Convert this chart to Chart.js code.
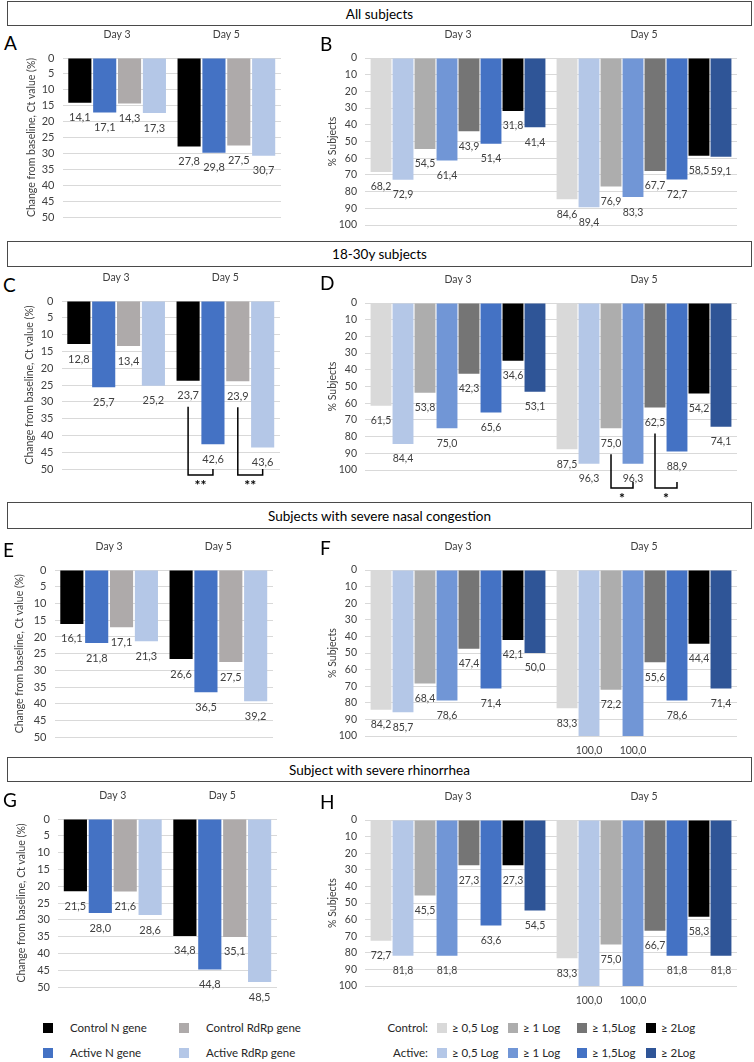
<!DOCTYPE html>
<html>
<head>
<meta charset="utf-8">
<script src="https://cdn.jsdelivr.net/npm/chart.js@4.4.1/dist/chart.umd.min.js"></script>
<style>
  body { margin: 0; background: #fff; }
  #page { position: relative; width: 754px; height: 1062px; overflow: hidden; font-family: Lato, 'Open Sans', sans-serif; color: #000; }
  .section { position: absolute; left: 7px; width: 745px; border: 1.5px solid #4a4a4a; box-sizing: border-box;
             display: flex; align-items: center; justify-content: center; font-size: 13.5px; }
  .letter { position: absolute; font-size: 19px; line-height: 22px; }
  canvas { position: absolute; }
  .swatch { position: absolute; width: 10px; height: 10px; }
  .legtext { position: absolute; font-size: 11.5px; line-height: 14px; color: #262626; white-space: nowrap; }
</style>
</head>
<body>
<div id="page"></div>
<script>
const FONT = "Lato, 'Open Sans', sans-serif";

const days = ['Day 3', 'Day 5'];
const sectionTitles = ['All subjects', '18-30y subjects', 'Subjects with severe nasal congestion', 'Subject with severe rhinorrhea'];

// left panels (Ct value change)
const ctSeries = ['Control N gene', 'Active N gene', 'Control RdRp gene', 'Active RdRp gene'];
const ctColors = ['#000000', '#4472C4', '#AEAAAA', '#B4C7E7'];

// right panels (% subjects by log reduction)
const logGroups = ['Control:', 'Active:'];
const logThresholds = ['≥ 0,5 Log', '≥ 1 Log', '≥ 1,5Log', '≥ 2Log'];
const controlColors = ['#D9D9D9', '#ADADAD', '#757575', '#000000'];
const activeColors = ['#B4C7E7', '#7196D6', '#4472C4', '#2F5597'];

// one row per ctSeries entry: [day 3, day 5]
const ctAll = [[14.1, 27.8], [17.1, 29.8], [14.3, 27.5], [17.3, 30.7]];
const ct18to30 = [[12.8, 23.7], [25.7, 42.6], [13.4, 23.9], [25.2, 43.6]];
const ctNasal = [[16.1, 26.6], [21.8, 36.5], [17.1, 27.5], [21.3, 39.2]];
const ctRhino = [[21.5, 34.8], [28.0, 44.8], [21.6, 35.1], [28.6, 48.5]];

// one row per bar: control / active alternating for each threshold: [day 3, day 5]
const logAll = [[68.2, 84.6], [72.9, 89.4], [54.5, 76.9], [61.4, 83.3], [43.9, 67.7], [51.4, 72.7], [31.8, 58.5], [41.4, 59.1]];
const log18to30 = [[61.5, 87.5], [84.4, 96.3], [53.8, 75.0], [75.0, 96.3], [42.3, 62.5], [65.6, 88.9], [34.6, 54.2], [53.1, 74.1]];
const logNasal = [[84.2, 83.3], [85.7, 100.0], [68.4, 72.2], [78.6, 100.0], [47.4, 55.6], [71.4, 78.6], [42.1, 44.4], [50.0, 71.4]];
const logRhino = [[72.7, 83.3], [81.8, 100.0], [45.5, 75.0], [81.8, 100.0], [27.3, 66.7], [63.6, 81.8], [27.3, 58.3], [54.5, 81.8]];

const logSeries = [];
const logColors = [];
logThresholds.forEach((t, i) => {
    logSeries.push('Control ' + t, 'Active ' + t);
    logColors.push(controlColors[i], activeColors[i]);
});

const page = document.getElementById('page');

function fmt(v) {
    return v.toFixed(1).replace('.', ',');
}

// value under the end of each bar
const barLabelPlugin = {
    id: 'bar_labels',
    afterDatasetsDraw(chart) {
        const ctx = chart.ctx;
        const size = chart.options.plugins.bar_labels.size;
        ctx.save();
        ctx.fillStyle = '#404040';
        ctx.font = `${size}px ${FONT}`;
        ctx.textAlign = 'center';
        ctx.textBaseline = 'middle';
        chart.data.datasets.forEach((ds, i) => {
            chart.getDatasetMeta(i).data.forEach((bar, j) => {
                ctx.fillText(fmt(ds.data[j]), bar.x, bar.y + 15);
            });
        });
        ctx.restore();
    }
};

// significance brackets joining two bars of the same day
function bracketPlugin(brackets) {
    return {
        id: 'brackets',
        afterDatasetsDraw(chart) {
            const ctx = chart.ctx;
            ctx.save();
            ctx.strokeStyle = '#000';
            ctx.lineWidth = 1.5;
            ctx.fillStyle = '#000';
            ctx.font = `bold 14px ${FONT}`;
            ctx.textAlign = 'center';
            ctx.textBaseline = 'middle';
            brackets.forEach(b => {
                const a = chart.getDatasetMeta(b.from).data[b.cat];
                const c = chart.getDatasetMeta(b.to).data[b.cat];
                const low = chart.chartArea.bottom + b.drop;
                ctx.beginPath();
                ctx.moveTo(a.x, a.y + 26);
                ctx.lineTo(a.x, low);
                ctx.lineTo(c.x, low);
                ctx.lineTo(c.x, low - 6);
                ctx.stroke();
                ctx.fillText(b.text, (a.x + c.x) / 2, low + 10);
            });
            ctx.restore();
        }
    };
}

function makePanel(p) {
    const [cl, ct, cr, cb] = p.canvas;
    const [al, at, ar, ab] = p.area;
    const canvas = document.createElement('canvas');
    canvas.width = cr - cl;
    canvas.height = cb - ct;
    canvas.style.left = cl + 'px';
    canvas.style.top = ct + 'px';
    page.appendChild(canvas);

    const letter = document.createElement('div');
    letter.className = 'letter';
    letter.textContent = p.letter;
    letter.style.left = p.letterPos[0] + 'px';
    letter.style.top = p.letterPos[1] + 'px';
    page.appendChild(letter);

    const datasets = p.rows.map((row, i) => ({
        label: p.names[i],
        data: row,
        backgroundColor: p.colors[i],
        borderWidth: 0,
        barPercentage: p.barPct,
        categoryPercentage: p.catPct
    }));

    return new Chart(canvas, {
        type: 'bar',
        data: { labels: days, datasets: datasets },
        options: {
            responsive: false,
            animation: false,
            events: [],
            layout: { padding: { left: 0, top: 0, right: cr - ar, bottom: cb - ab } },
            plugins: {
                legend: { display: false },
                tooltip: { enabled: false },
                bar_labels: { size: p.labelSize }
            },
            scales: {
                x: {
                    position: 'top',
                    grid: { display: false },
                    border: { display: false },
                    ticks: { color: '#404040', font: { family: FONT, size: 10.5 }, padding: 9 },
                    afterFit: (s) => { s.height = at - ct; }
                },
                y: {
                    reverse: true,
                    min: 0,
                    max: p.max,
                    border: { display: false },
                    grid: { color: '#D9D9D9', drawTicks: false },
                    ticks: { stepSize: p.step, autoSkip: false, color: '#404040', font: { family: FONT, size: p.tickSize }, padding: 8 },
                    title: { display: true, text: p.title, color: '#404040', font: { family: FONT, size: 10.5 }, padding: { top: 4, bottom: 0 } },
                    afterFit: (s) => { s.width = al - cl; }
                }
            }
        },
        plugins: [barLabelPlugin, bracketPlugin(p.brackets || [])]
    });
}

// section header boxes
const sectionBoxes = [[1, 25], [241, 26], [502, 27], [757, 25]];
sectionTitles.forEach((t, i) => {
    const d = document.createElement('div');
    d.className = 'section';
    d.style.top = sectionBoxes[i][0] + 'px';
    d.style.height = sectionBoxes[i][1] + 'px';
    d.textContent = t;
    page.appendChild(d);
});

const ctTitle = 'Change from baseline, Ct value (%)';
const logTitle = '% Subjects';
const leftOpts = { names: ctSeries, colors: ctColors, max: 50, step: 5, title: ctTitle, barPct: 0.93, catPct: 0.91, tickSize: 11, labelSize: 11 };
const rightOpts = { names: logSeries, colors: logColors, max: 100, step: 10, title: logTitle, barPct: 0.95, catPct: 0.946, tickSize: 10.5, labelSize: 10.5 };

makePanel({ ...leftOpts, letter: 'A', letterPos: [4, 32], rows: ctAll, canvas: [21, 30, 292, 240], area: [62.5, 58, 281, 217] });
makePanel({ ...rightOpts, letter: 'B', letterPos: [320, 33], rows: logAll, canvas: [322, 30, 752, 245], area: [365, 58, 737, 225] });

makePanel({ ...leftOpts, letter: 'C', letterPos: [3, 274], rows: ct18to30, canvas: [19, 272, 292, 497], area: [61.5, 301, 280, 469],
    brackets: [{ cat: 1, from: 0, to: 1, drop: 6, text: '**' }, { cat: 1, from: 2, to: 3, drop: 6, text: '**' }] });
makePanel({ ...rightOpts, letter: 'D', letterPos: [320, 272], rows: log18to30, canvas: [322, 272, 752, 501], area: [365, 303, 737, 470],
    brackets: [{ cat: 1, from: 2, to: 3, drop: 18, text: '*' }, { cat: 1, from: 4, to: 5, drop: 18, text: '*' }] });

makePanel({ ...leftOpts, letter: 'E', letterPos: [3, 539], rows: ctNasal, canvas: [9, 535, 290, 752], area: [54.5, 570, 273, 738] });
makePanel({ ...rightOpts, letter: 'F', letterPos: [320, 537], rows: logNasal, canvas: [322, 535, 752, 757], area: [365, 570, 737, 736] });

makePanel({ ...leftOpts, letter: 'G', letterPos: [3, 789], rows: ctRhino, canvas: [11, 785, 292, 1006], area: [58, 819, 277, 987] });
makePanel({ ...rightOpts, letter: 'H', letterPos: [320, 791], rows: logRhino, canvas: [322, 785, 752, 1012], area: [365, 820, 737, 986] });

// legends
function addSwatch(x, y, color) {
    const s = document.createElement('div');
    s.className = 'swatch';
    s.style.left = x + 'px';
    s.style.top = (y - 5) + 'px';
    s.style.background = color;
    page.appendChild(s);
}
function addText(x, y, text, align) {
    const t = document.createElement('div');
    t.className = 'legtext';
    t.textContent = text;
    t.style.top = (y - 7) + 'px';
    if (align === 'right') {
        t.style.right = (754 - x) + 'px';
    } else {
        t.style.left = x + 'px';
    }
    page.appendChild(t);
}

const legendRows = [1028, 1053];
// left legend: two columns (N gene, RdRp gene), rows control / active
[[0, 2], [1, 3]].forEach((pair, r) => {
    pair.forEach((si, c) => {
        const x = [43, 179][c];
        addSwatch(x, legendRows[r], ctColors[si]);
        addText(x + 27, legendRows[r], ctSeries[si]);
    });
});
// right legend
const legendCols = [437, 508, 577, 646];
logGroups.forEach((g, r) => {
    addText(428, legendRows[r], g, 'right');
    const colors = r === 0 ? controlColors : activeColors;
    logThresholds.forEach((t, c) => {
        addSwatch(legendCols[c], legendRows[r], colors[c]);
        addText(legendCols[c] + 15, legendRows[r], t);
    });
});
</script>
</body>
</html>
